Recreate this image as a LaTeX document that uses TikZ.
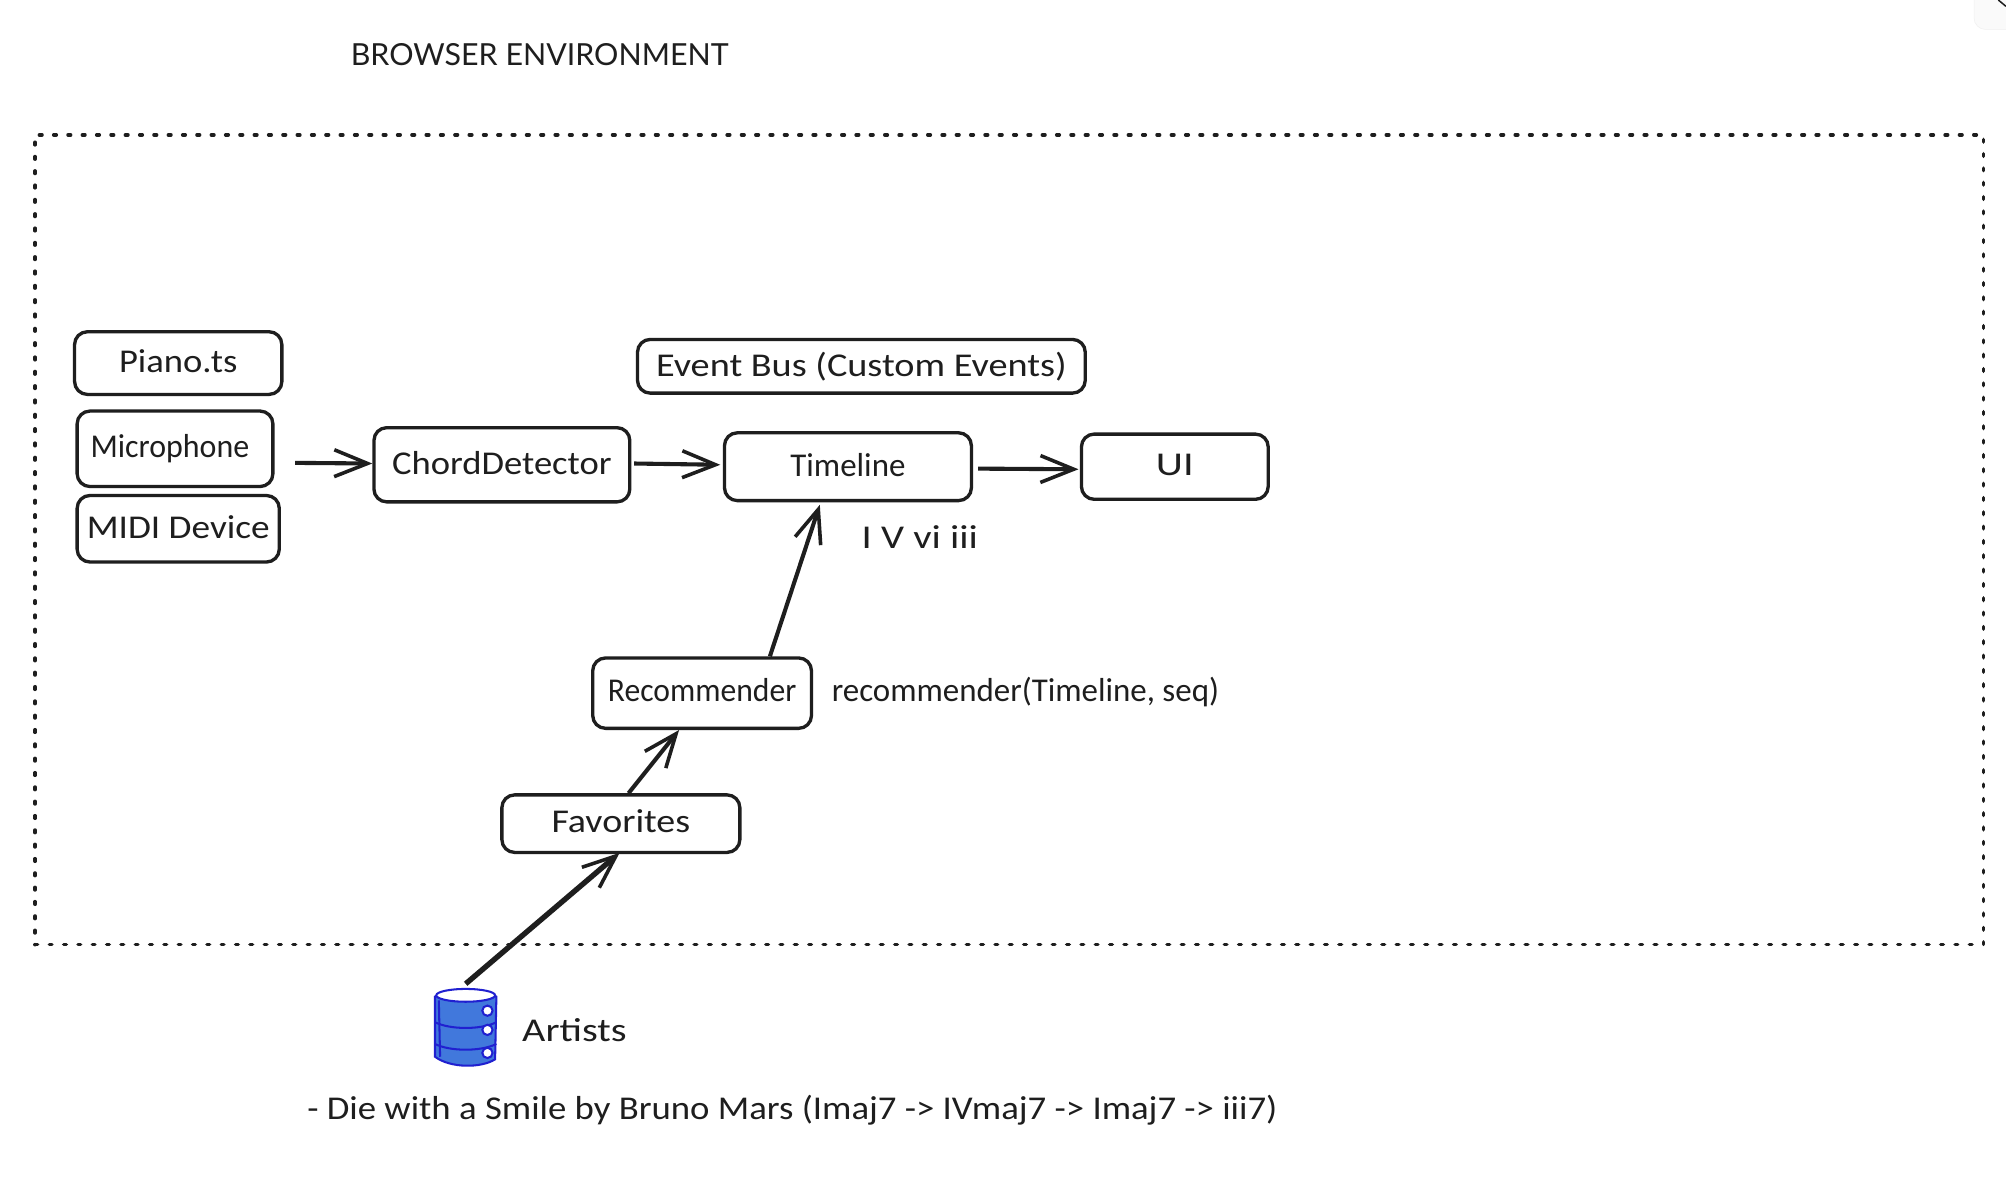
\documentclass[tikz,border=0pt]{standalone}
\usepackage{fontspec}
\usepackage{graphicx}
\setmainfont{Carlito}
\newfontfamily\titlefont{Lato}
\usetikzlibrary{arrows.meta,calc}
\definecolor{ink}{HTML}{1E1E1E}
\definecolor{dbblue}{HTML}{4178DC}
\definecolor{dbline}{HTML}{2020D0}
\tikzset{
  x=1pt,y=-1pt,
  box/.style={draw=ink,line width=2.6pt,rounded corners=10pt,fill=white,inner sep=0pt,text=ink,font=\fontsize{26}{28}\selectfont,anchor=north west},
  lbl/.style={text=ink,inner sep=0pt,font=\fontsize{26}{28}\selectfont},
  link/.style={draw=ink,line width=3.2pt,-{Straight Barb[length=26pt,width=21pt,line width=2.8pt]}},
  frame/.style={draw=ink,line width=2.8pt,dash pattern=on 2pt off 9.2pt,line cap=round},
  dbstroke/.style={draw=dbline,line width=1.6pt},
}
\newcommand{\bx}[6]{\node[box,minimum width=#4pt-#2pt,minimum height=#5pt-#3pt] (#1) at (#2-1,#3-1) {#6};}
\newcommand{\tx}[3]{\raisebox{#2pt}{\scalebox{#1}[1]{#3}}}
\begin{document}
\begin{tikzpicture}
\useasboundingbox (0,0) rectangle (1568,924);
\fill[white] (0,0) rectangle (1568,924);
% corner control
\begin{scope}
\clip (0,0) rectangle (1568,924);
\draw[draw=black!6,fill=black!2,rounded corners=9pt] (1543,-20) rectangle (1600,23);
\draw[ink,line width=1.2pt] (1562,0) -- (1568,5);
\end{scope}
\node[lbl,font=\titlefont\fontsize{23.75}{28}\selectfont,anchor=west] (title) at (274,43) {BROWSER ENVIRONMENT};
\node[frame,draw,anchor=north west,inner sep=0pt,minimum width=1523pt,minimum height=633pt] (env) at (26,104) {};
\bx{piano}{58}{259}{220}{308}{\tx{1.10}{2.5}{Piano.ts}}
\bx{mic}{60}{321}{213}{380}{\hspace*{-8pt}\tx{0.96}{0}{Microphone}}
\bx{midi}{60}{387}{218}{439}{\tx{1.12}{2.5}{MIDI Device}}
\bx{cd}{292}{334}{492}{392}{\tx{1.10}{2.5}{ChordDetector}}
\bx{bus}{498}{265}{848}{307}{\tx{1.15}{0.5}{Event Bus (Custom Events)}}
\bx{tl}{566}{338}{759}{391}{\tx{0.99}{2.5}{Timeline}}
\bx{ui}{845}{339}{991}{390}{\tx{1.27}{2.5}{UI}}
\bx{rec}{463}{514}{634}{569}{\tx{0.95}{4.5}{Recommender}}
\bx{fav}{392}{621}{578}{666}{\tx{1.14}{3.5}{Favorites}}
\node[lbl] (prog) at (719,420) {\tx{1.22}{0}{I V vi iii}};
\node[lbl,anchor=west] (rlabel) at (650,541) {\tx{0.99}{0}{recommender(Timeline, seq)}};
\node[lbl,anchor=west] (artists) at (408,805) {\tx{1.21}{0}{Artists}};
\node[lbl,anchor=west] (song) at (240,868) {\tx{1.105}{0}{- Die with a Smile by Bruno Mars (Imaj7 -> IVmaj7 -> Imaj7 -> iii7)}};
% database
\coordinate (db) at (364,772);
\path[fill=dbblue,dbstroke] (340,779) -- (340,826) .. controls (352,835) and (376,835) .. (387,828) -- (388,779) .. controls (376,772) and (352,772) .. (340,779) -- cycle;
\draw[dbstroke,fill=white] (364,778) ellipse (23pt and 5pt);
\draw[dbstroke] (340,799) .. controls (352,805) and (376,805) .. (388,799);
\draw[dbstroke] (340,816) .. controls (352,822) and (376,822) .. (388,816);
\draw[dbstroke] (343,782) -- (344,826);
\foreach \yy in {790,805,823}{\draw[dbstroke,fill=white] (381,\yy) circle (4pt);}
% connectors
\draw[link] ([xshift=16pt,yshift=-11pt]mic.east) -- ([xshift=0pt,yshift=1pt]cd.west);
\draw[link] ([xshift=2pt,yshift=1pt]cd.east) -- ([xshift=-2pt,yshift=1.5pt]tl.west);
\draw[link] ([xshift=4pt,yshift=-1.5pt]tl.east) -- ([xshift=-1pt,yshift=-2pt]ui.west);
\draw[link] ([xshift=53pt]rec.north) -- ([xshift=-22pt,yshift=-2pt]tl.south);
\draw[link] ([xshift=6pt]fav.north) -- ([xshift=-18pt]rec.south);
\draw[link,line width=4.2pt] ([yshift=3pt]db) -- ([xshift=-1pt,yshift=1pt]fav.south);
\end{tikzpicture}
\end{document}
